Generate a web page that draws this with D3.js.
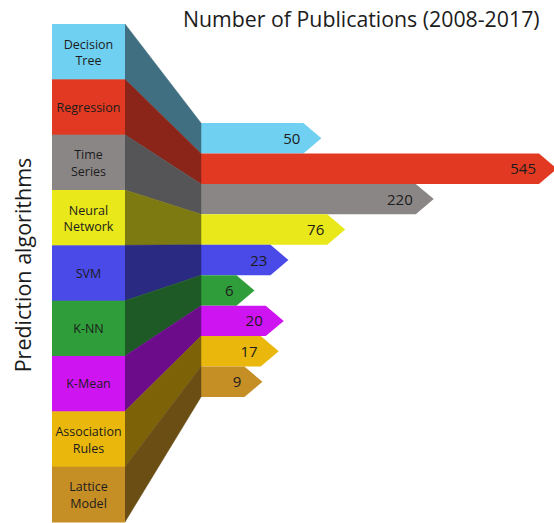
<!DOCTYPE html>
<html>
<head>
<meta charset="utf-8">
<script src="https://cdn.jsdelivr.net/npm/d3@7"></script>
<style>
  html, body { margin: 0; padding: 0; background: #fff; }
  svg { display: block; font-family: "Open Sans", "Noto Sans", sans-serif; }
</style>
</head>
<body>
<svg id="chart" width="554" height="523"></svg>
<script>
// Prediction algorithms and their publication counts, 2008-2017
const categories = ["Decision Tree", "Regression", "Time Series", "Neural Network", "SVM",
                    "K-NN", "K-Mean", "Association Rules", "Lattice Model"];
const publications = [50, 545, 220, 76, 23, 6, 20, 17, 9];

// Face colour of each block and the shaded colour of its folded side
const faceColors = ["#70d0f2", "#e23a22", "#8b8686", "#e8e81a", "#4a4ae8",
                    "#2f9e3a", "#cf14f2", "#eab80c", "#c68f26"];
const foldColors = ["#3f6f80", "#8b2519", "#555456", "#7d7a12", "#2a2a82",
                    "#1e5a26", "#6c0c8a", "#7d6208", "#6a4e14"];

const title = "Number of Publications (2008-2017)";
const axisTitle = "Prediction algorithms";

const svg = d3.select("#chart");

// Layout
const colX0 = 52, colX1 = 125;      // stacked label column
const barX0 = 201;                   // start of the arrow bars
const tip = 18;                      // arrow point length

const leftBand = d3.scaleBand().domain(categories).range([24, 522]);
const rightBand = d3.scaleBand().domain(categories).range([123, 397]);
const len = d3.scaleSqrt().domain([0, 545]).range([0, 338]);

const rows = categories.map((c, i) => ({
  name: c, value: publications[i], face: faceColors[i], fold: foldColors[i]
}));

// Arrow bars
svg.append("g").selectAll("path.bar").data(rows).join("path")
  .attr("class", "bar")
  .attr("fill", d => d.face)
  .attr("d", d => {
    const y0 = rightBand(d.name), y1 = y0 + rightBand.bandwidth();
    const xe = barX0 + len(d.value);
    return `M${barX0},${y0}L${xe},${y0}L${xe + tip},${(y0 + y1) / 2}L${xe},${y1}L${barX0},${y1}Z`;
  });

// Folded sides joining the column to the bars
svg.append("g").selectAll("path.fold").data(rows).join("path")
  .attr("class", "fold")
  .attr("fill", d => d.fold)
  .attr("stroke", d => d.fold)
  .attr("stroke-width", 0.5)
  .attr("d", d => {
    const a0 = leftBand(d.name), a1 = a0 + leftBand.bandwidth();
    const b0 = rightBand(d.name), b1 = b0 + rightBand.bandwidth();
    return `M${colX1},${a0}L${barX0},${b0}L${barX0},${b1}L${colX1},${a1}Z`;
  });

// Label column blocks
svg.append("g").selectAll("rect").data(rows).join("rect")
  .attr("x", colX0)
  .attr("y", d => leftBand(d.name))
  .attr("width", colX1 - colX0)
  .attr("height", leftBand.bandwidth() + 0.5)
  .attr("fill", d => d.face);

// Category names inside the blocks, one line per word
const cx = (colX0 + colX1) / 2;
svg.append("g").selectAll("g").data(rows).join("g")
  .each(function (d) {
    const words = d.name.split(" ");
    const cy = leftBand(d.name) + leftBand.bandwidth() / 2;
    const lines = words.length === 1 ? [[words[0], cy + 4.5]]
                                     : words.map((w, k) => [w, cy - 3 + k * 16.5]);
    d3.select(this).selectAll("text").data(lines).join("text")
      .attr("x", cx)
      .attr("y", l => l[1])
      .attr("text-anchor", "middle")
      .attr("font-size", 12.5)
      .attr("fill", "#1c1c1c")
      .text(l => l[0]);
  });

// Value labels at the end of each bar
svg.append("g").selectAll("text").data(rows).join("text")
  .attr("text-anchor", "end")
  .attr("font-size", 15)
  .attr("fill", "#1c1c1c")
  .attr("x", d => barX0 + len(d.value) - 3)
  .attr("y", d => rightBand(d.name) + rightBand.bandwidth() / 2 + 5.5)
  .text(d => d.value);

// Chart title
svg.append("text")
  .attr("x", 183).attr("y", 27)
  .attr("font-size", 21.3)
  .attr("fill", "#1c1c1c")
  .text(title);

// Vertical axis title
svg.append("text")
  .attr("transform", "translate(31,265) rotate(-90)")
  .attr("text-anchor", "middle")
  .attr("font-size", 21.5)
  .attr("fill", "#1c1c1c")
  .text(axisTitle);
</script>
</body>
</html>
